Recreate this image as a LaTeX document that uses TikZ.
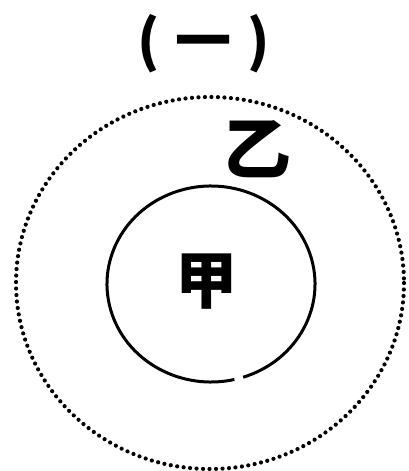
\documentclass[tikz,border=0pt]{standalone}
\usepackage{fontspec}
\newfontfamily\cjk{Noto Sans CJK SC}
\begin{document}
\begin{tikzpicture}[x=1pt,y=-1pt,
  dottedring/.style={line width=4.2pt, dash pattern=on 0pt off 6.5pt, line cap=round},
  solidring/.style={line width=3pt},
  bigchar/.style={font=\cjk\bfseries\fontsize{62}{62}\selectfont, inner sep=0pt}]
\useasboundingbox (0,0) rectangle (409,471);
\coordinate (c) at (210,283);
\draw[dottedring] (c) ellipse [x radius=194, y radius=186];
\draw[solidring] (211,284) ++(-72:104 and -98) arc [start angle=-72, end angle=283, x radius=104, y radius=-98];
\node[bigchar] (jia) at (206,282) {甲};
\node[bigchar, font=\cjk\bfseries\fontsize{68}{68}\selectfont] (yi) at (257,149) {乙};
\node[bigchar, font=\cjk\bfseries\fontsize{56}{56}\selectfont] (title) at (204,44) {(\hspace{16pt}一\hspace{16pt})};
\end{tikzpicture}
\end{document}
